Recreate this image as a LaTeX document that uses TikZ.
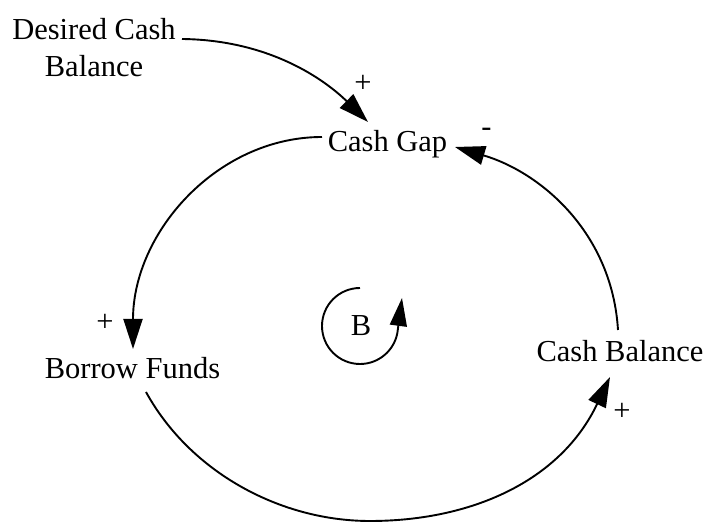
\documentclass[tikz,border=0pt]{standalone}
\usepackage{fontspec}
\setmainfont{Liberation Serif}
\usetikzlibrary{arrows.meta}
\begin{document}
\begin{tikzpicture}[x=1pt,y=1pt,
  lbl/.style={inner sep=0pt, anchor=base, font=\fontsize{30.5}{37}\selectfont},
  link/.style={line width=1.9pt, -{Triangle[length=30pt,width=19pt]}},
  looparrow/.style={line width=1.9pt, -{Triangle[length=28pt,width=17pt]}},
]
\useasboundingbox (0,0) rectangle (705,522);
% variables
\node[lbl] (dcb) at (94,482) {\begin{tabular}[t]{@{}c@{}}Desired Cash\\Balance\end{tabular}};
\node[lbl] (cg) at (387.5,370) {Cash Gap};
\node[lbl] (bf) at (132.5,143) {Borrow Funds};
\node[lbl] (cb) at (620,160) {Cash Balance};
\node[lbl] (b) at (361,186) {B};
% polarity signs
\node[lbl] (s1) at (363,429) {+};
\node[lbl] (s2) at (105,190) {+};
\node[lbl] (s3) at (622,101) {+};
\node[lbl] (s4) at (486.5,385) {-};
% links
\draw[link] ([shift={(88,1)}]dcb.base) .. controls (270,482) and (325,442) .. ([shift={(-19.5,30)}]cg.base);
\draw[link] ([shift={(-65.5,15)}]cg.base) .. controls (217.7,385) and (133,290) .. ([shift={(0.5,30)}]bf.base);
\draw[link] ([shift={(13.5,-13)}]bf.base) .. controls (190,50) and (280,1) .. (370,1)
  .. controls (470,1) and (560,40) .. ([shift={(-10,-15)}]cb.base);
\draw[link] ([shift={(-2,32)}]cb.base) .. controls (612,290) and (540,350) .. ([shift={(67.5,5)}]cg.base);
% loop marker
\draw[looparrow] ([shift={(-1,48)}]b.base) arc[start angle=90,end angle=350,radius=38]
  -- ([shift={(41,38)}]b.base);
\end{tikzpicture}
\end{document}
